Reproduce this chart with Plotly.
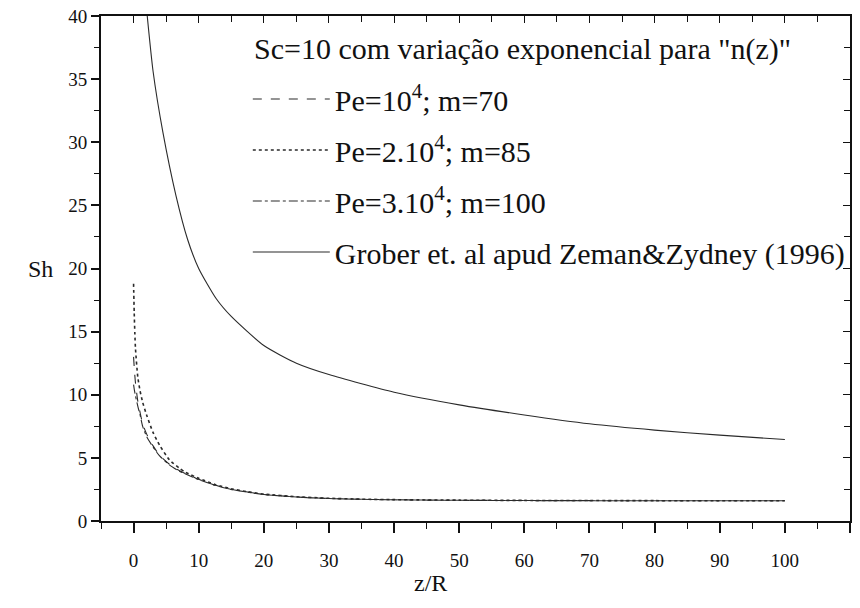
import plotly.graph_objects as go

# ---- data ----
z_pe1 = [0, 0.15, 0.3, 0.65, 1.0, 1.4, 2.0, 3.0, 4.0, 5.5, 7, 8, 10, 12.5, 15, 17.5, 20, 25, 30, 35, 40, 50, 60, 70, 80, 90, 100]
sh_pe1 = [13.0, 11.8, 10.9, 9.5, 8.6, 7.7, 6.9, 5.95, 5.2, 4.5, 4.0, 3.75, 3.3, 2.85, 2.5, 2.3, 2.1, 1.9, 1.78, 1.72, 1.68, 1.64, 1.62, 1.61, 1.6, 1.6, 1.6]

z_pe2 = [0, 0.1, 0.2, 0.3, 0.65, 1.0, 1.4, 2.0, 3.0, 4.0, 5.5, 7, 8, 10, 12.5, 15, 17.5, 20, 25, 30, 35, 40, 50, 60, 70, 80, 90, 100]
sh_pe2 = [18.8, 16.5, 14.8, 13.6, 11.4, 10.3, 9.4, 8.4, 7.0, 6.0, 4.85, 4.2, 3.85, 3.38, 2.9, 2.55, 2.32, 2.13, 1.92, 1.8, 1.73, 1.69, 1.65, 1.63, 1.62, 1.61, 1.6, 1.6]

z_pe3 = [0, 0.15, 0.3, 0.65, 1.0, 1.4, 2.0, 3.0, 4.0, 5.5, 7, 8, 10, 12.5, 15, 17.5, 20, 25, 30, 35, 40, 50, 60, 70, 80, 90, 100]
sh_pe3 = [10.8, 10.3, 9.9, 9.1, 8.4, 7.5, 6.7, 5.85, 5.15, 4.45, 3.95, 3.72, 3.28, 2.83, 2.5, 2.28, 2.1, 1.9, 1.78, 1.72, 1.68, 1.64, 1.62, 1.61, 1.6, 1.6, 1.6]

z_gr = [2.1, 3, 4.5, 6.5, 8.3, 10, 12.7, 15, 20, 25, 30, 40, 50, 60, 70, 80, 90, 100]
sh_gr = [40, 35.6, 30.8, 25.8, 22.3, 20.0, 17.6, 16.2, 13.9, 12.5, 11.6, 10.2, 9.2, 8.4, 7.7, 7.2, 6.8, 6.45]

names = ["Pe=10<sup>4</sup>; m=70",
         "Pe=2.10<sup>4</sup>; m=85",
         "Pe=3.10<sup>4</sup>; m=100",
         "Grober et. al apud Zeman&Zydney (1996)"]
legend_title = 'Sc=10 com variação exponencial para "n(z)"'

x_ticks = list(range(0, 111, 10))
y_ticks = list(range(0, 41, 5))

FONT = "Liberation Serif"
LC = "#2a2a2a"
AX = "#111111"

fig = go.Figure()
series = [(z_pe1, sh_pe1, "dash"), (z_pe2, sh_pe2, "dot"), (z_pe3, sh_pe3, "dashdot"), (z_gr, sh_gr, "solid")]
for i, ((zx, sy, dash), nm) in enumerate(zip(series, names)):
    fig.add_trace(go.Scatter(x=zx, y=sy, mode="lines", name=nm, legendgroup=f"g{i}",
                             line=dict(color=LC, width=1.1 if dash != "dot" else 1.6, dash=dash,
                                       shape="spline", smoothing=0.6)))

# helper trace for the mirrored (inside-tick) top/right axes
fig.add_trace(go.Scatter(x=[None], y=[None], xaxis="x2", yaxis="y2", showlegend=False, hoverinfo="skip"))

fig.update_layout(
    width=860, height=608,
    margin=dict(l=101, r=10, t=16, b=87, autoexpand=False),
    paper_bgcolor="white", plot_bgcolor="white",
    font=dict(family=FONT, color="#111", size=19),
    showlegend=True,
    legend=dict(x=0.196, y=0.887, xanchor="left", yanchor="top",
                bgcolor="rgba(0,0,0,0)", borderwidth=0,
                font=dict(family=FONT, size=30, color="#111"),
                tracegroupgap=9, itemwidth=77, traceorder="grouped"),
    xaxis=dict(domain=[0, 1], range=[-5, 110], tickvals=x_ticks, ticktext=[str(v) for v in x_ticks],
               ticks="outside", ticklen=10, tickwidth=1.6, tickcolor=AX,
               showline=True, linecolor=AX, linewidth=2, showgrid=False, zeroline=False,
               minor=dict(dtick=5, tick0=0, ticks="outside", ticklen=6, tickwidth=1.4, tickcolor=AX),
               tickfont=dict(family=FONT, size=19, color="#111"), ticklabelstandoff=11),
    yaxis=dict(domain=[0, 1], range=[0, 40], tickvals=y_ticks, ticktext=[str(v) for v in y_ticks],
               ticks="outside", ticklen=8, tickwidth=1.6, tickcolor=AX,
               showline=True, linecolor=AX, linewidth=2, showgrid=False, zeroline=False,
               minor=dict(dtick=2.5, tick0=0, ticks="outside", ticklen=5, tickwidth=1.4, tickcolor=AX),
               tickfont=dict(family=FONT, size=19, color="#111")),
    xaxis2=dict(range=[-5, 110], overlaying="x", side="top", anchor="y", dtick=10, tick0=0,
                ticks="inside", ticklen=7, tickwidth=1.4, tickcolor=AX, showticklabels=False,
                showline=True, linecolor=AX, linewidth=2, showgrid=False, zeroline=False,
                minor=dict(dtick=5, tick0=0, ticks="inside", ticklen=6, tickwidth=1.3, tickcolor=AX)),
    yaxis2=dict(range=[0, 40], overlaying="y", side="right", anchor="x", dtick=5, tick0=0,
                ticks="inside", ticklen=7, tickwidth=1.4, tickcolor=AX, showticklabels=False,
                showline=True, linecolor=AX, linewidth=2, showgrid=False, zeroline=False,
                minor=dict(dtick=2.5, tick0=0, ticks="inside", ticklen=6, tickwidth=1.3, tickcolor=AX)),
    annotations=[
        dict(text=legend_title, xref="paper", yref="paper", x=0.201, y=0.935, xanchor="left", yanchor="middle",
             showarrow=False, font=dict(family=FONT, size=30, color="#111")),
        dict(text="Sh", xref="paper", yref="paper", x=-0.081, y=0.5, xanchor="center", yanchor="middle",
             showarrow=False, font=dict(family=FONT, size=24, color="#111")),
        dict(text="z/R", xref="paper", yref="paper", x=0.44, y=-0.123, xanchor="center", yanchor="middle",
             showarrow=False, font=dict(family=FONT, size=24, color="#111")),
    ],
)

fig.write_html("out.html")
